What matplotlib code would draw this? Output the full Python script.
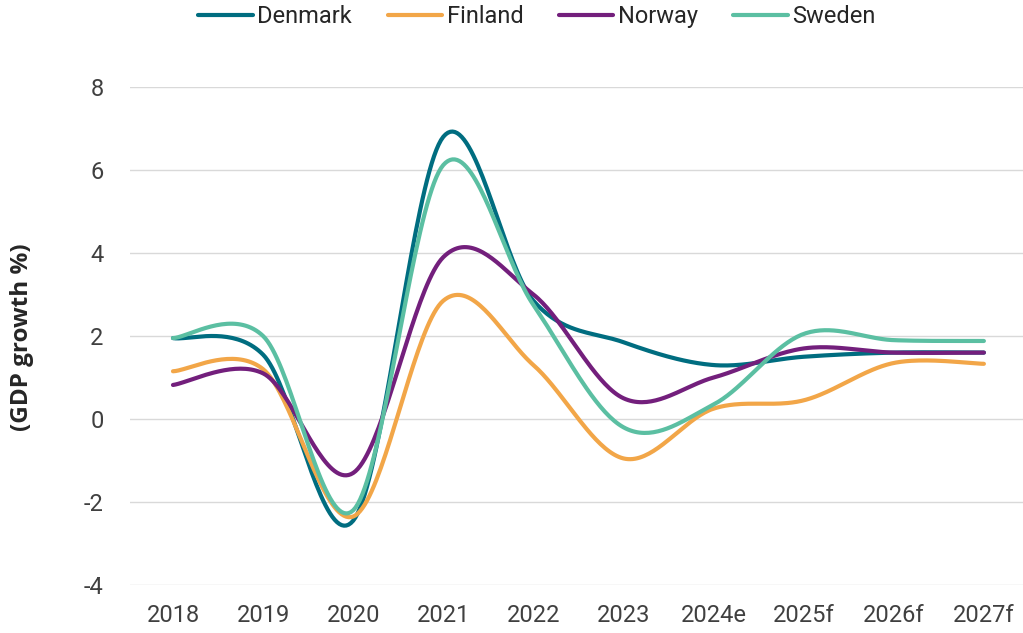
import numpy as np
import matplotlib.pyplot as plt

years = ['2018', '2019', '2020', '2021', '2022', '2023', '2024e', '2025f', '2026f', '2027f']
denmark = [1.95, 1.55, -2.45, 6.8, 2.85, 1.85, 1.3, 1.5, 1.6, 1.6]
finland = [1.15, 1.2, -2.35, 2.85, 1.3, -0.95, 0.25, 0.45, 1.35, 1.33]
norway = [0.82, 1.1, -1.3, 3.9, 3.0, 0.5, 1.0, 1.7, 1.6, 1.6]
sweden = [1.95, 2.0, -2.2, 6.12, 2.75, -0.2, 0.35, 2.05, 1.9, 1.88]

series = [('Denmark', denmark, '#006d80'),
          ('Finland', finland, '#f2a648'),
          ('Norway', norway, '#731f7c'),
          ('Sweden', sweden, '#5bbfa2')]


def smooth(x, y, n=40):
    # bezier smoothing like the spreadsheet "smoothed line" option
    p = np.column_stack([x, y]).astype(float)
    pts = np.vstack([p[0], p, p[-1]])
    t = np.linspace(0, 1, n)[:, None]
    out = []
    for i in range(len(p) - 1):
        p0, p1, p2, p3 = pts[i], pts[i + 1], pts[i + 2], pts[i + 3]
        c1 = p1 + (p2 - p0) / 6
        c2 = p2 - (p3 - p1) / 6
        seg = ((1 - t) ** 3) * p1 + 3 * ((1 - t) ** 2) * t * c1 + 3 * (1 - t) * t ** 2 * c2 + t ** 3 * p2
        out.append(seg if i == 0 else seg[1:])
    out = np.vstack(out)
    return out[:, 0], out[:, 1]


plt.rcParams['font.family'] = ['Roboto', 'DejaVu Sans']
plt.rcParams['axes.unicode_minus'] = False

fig = plt.figure(figsize=(10.23, 6.33), dpi=100)
ax = fig.add_axes([130 / 1023, 48 / 633, 893 / 1023, 498 / 633])

x = np.arange(len(years))
for name, vals, col in series:
    sx, sy = smooth(x, vals)
    ax.plot(sx, sy, color=col, lw=3, label=name, solid_capstyle='round')

ax.set_xlim(-0.477, 9.434)
ax.set_ylim(-4, 8)
ax.set_yticks(np.arange(-4, 9, 2))
ax.set_xticks(x)
ax.set_xticklabels(years)
ax.grid(axis='y', color='#d9d9d9', lw=1)
ax.set_axisbelow(True)
for s in ax.spines.values():
    s.set_visible(False)
ax.tick_params(axis='y', length=0, pad=19, labelsize=17, labelcolor='#404040')
ax.tick_params(axis='x', length=0, pad=14, labelsize=17, labelcolor='#404040')

fig.text(22 / 1023, 1 - 337 / 633, '(GDP growth %)', rotation=90, ha='center', va='center',
         fontsize=17.5, fontweight='bold', family=['Open Sans', 'DejaVu Sans'], color='#262626')

fig.legend(loc='upper center', bbox_to_anchor=(537 / 1023, 1.025), ncol=4, frameon=False,
           fontsize=17, handlelength=2.3, handletextpad=0.2, columnspacing=1.5,
           labelcolor='#262626')

fig.savefig('out.png', dpi=100)
